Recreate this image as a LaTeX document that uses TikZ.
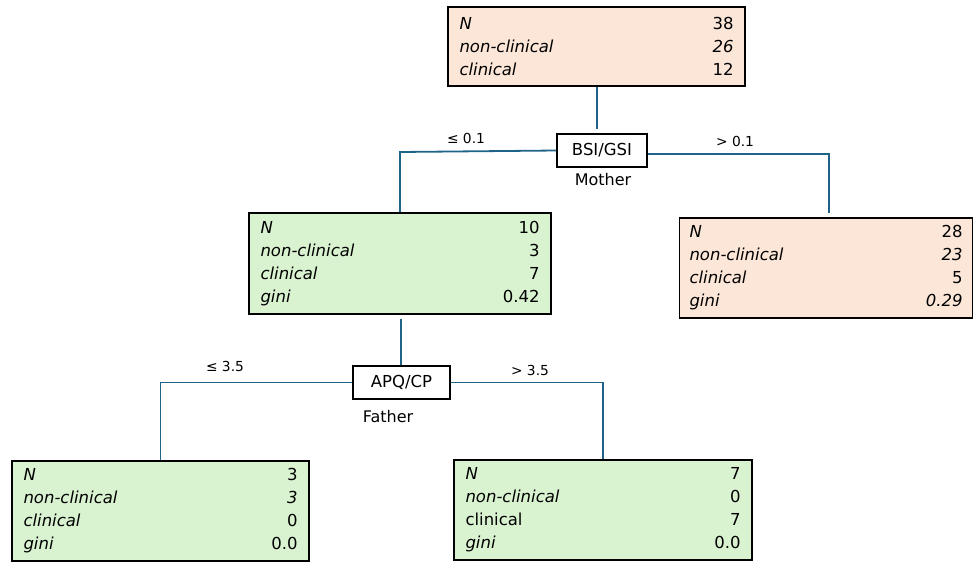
\documentclass[tikz,border=0pt]{standalone}
\usepackage{fontspec}
\setmainfont{DejaVu Sans}
\usetikzlibrary{calc}
\definecolor{peach}{HTML}{FCE6D8}
\definecolor{mint}{HTML}{D9F2D0}
\definecolor{link}{HTML}{1F6488}
\tikzset{
  databox/.style={draw=black, line width=1.6pt, rectangle, inner xsep=10pt, inner ysep=0pt,
    align=left, font=\fontsize{16.5}{23}\selectfont},
  splitbox/.style={draw=black, line width=1.6pt, rectangle, fill=white, inner sep=0pt,
    font=\fontsize{16.5}{18}\selectfont},
  edgelab/.style={font=\fontsize{13.8}{15}\selectfont, inner sep=0pt},
  sublab/.style={font=\fontsize{16}{18}\selectfont, inner sep=0pt},
  conn/.style={draw=link, line width=1.8pt}
}
\newcommand{\rowl}[2]{#1\hfill #2\\}
\begin{document}
\begin{tikzpicture}[x=1pt,y=-1pt]
\useasboundingbox (0,0) rectangle (973,563);
% boxes
\node[databox, fill=peach, minimum width=297pt, minimum height=79pt, text width=274pt] (root) at (596.5,46.5)
  {\rowl{\textit{N}}{38}\rowl{\textit{non-clinical}}{\textit{26}}\textit{clinical}\hfill 12};
\node[splitbox, minimum width=90pt, minimum height=33pt] (bsi) at (602,150.5) {BSI/GSI};
\node[databox, fill=mint, minimum width=302pt, minimum height=101pt, text width=279pt] (mid) at (400,263.5)
  {\rowl{\textit{N}}{10}\rowl{\textit{non-clinical}}{3}\rowl{\textit{clinical}}{7}\textit{gini}\hfill 0.42};
\node[databox, fill=peach, minimum width=292pt, minimum height=100pt, text width=273pt] (rbox) at (826,268)
  {\rowl{\textit{N}}{28}\rowl{\textit{non-clinical}}{\textit{23}}\rowl{\textit{clinical}}{5}\textit{gini}\hfill \textit{0.29}};
\node[splitbox, minimum width=97pt, minimum height=33pt] (apq) at (401.5,382.5) {APQ/CP};
\node[databox, fill=mint, minimum width=297pt, minimum height=100pt, text width=274pt] (lleaf) at (160.5,511)
  {\rowl{\textit{N}}{3}\rowl{\textit{non-clinical}}{\textit{3}}\rowl{\textit{clinical}}{0}\textit{gini}\hfill 0.0};
\node[databox, fill=mint, minimum width=298pt, minimum height=100pt, text width=275pt] (rleaf) at (603,510)
  {\rowl{\textit{N}}{7}\rowl{\textit{non-clinical}}{0}\rowl{clinical}{7}\textit{gini}\hfill 0.0};
% connector corners
\coordinate (lc1) at (400,152);
\coordinate (rc1) at (829,154);
\coordinate (rc1b) at (829,218);
% connectors
\draw[conn, shorten >=4pt] (root.south -| 597,0) -- (bsi.north -| 597,0);
\draw[conn] (bsi.west) -- (lc1) -- (mid.north);
\draw[conn, shorten >=5pt] (bsi.east |- rc1) -- (rc1) -- (rc1b);
\draw[conn, shorten <=4pt] (mid.south -| 401,0) -- (apq.north -| 401,0);
\draw[conn] (apq.west) -| (lleaf.north);
\draw[conn] (apq.east) -| (rleaf.north);
% labels
\node[edgelab] (l1) at (466,138) {≤ 0.1};
\node[edgelab] (l2) at (735,141) {> 0.1};
\node[sublab] (mother) at (603,180) {Mother};
\node[edgelab] (l3) at (225,366) {≤ 3.5};
\node[edgelab] (l4) at (530,370) {> 3.5};
\node[sublab] (father) at (388,417) {Father};
\end{tikzpicture}
\end{document}
